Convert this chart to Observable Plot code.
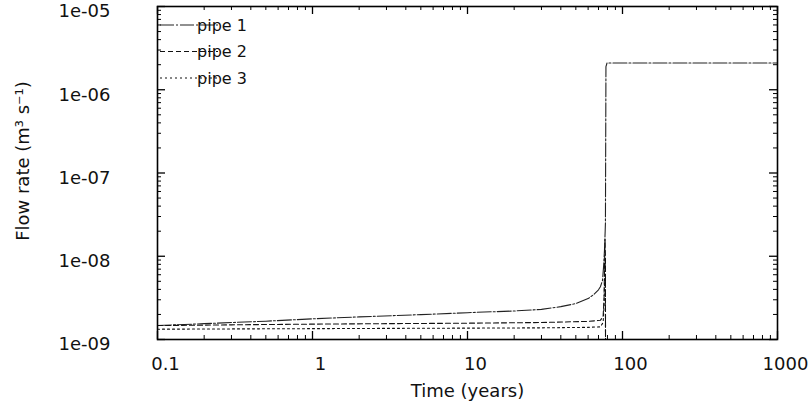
<!DOCTYPE html>
<html><head><meta charset="utf-8">
<script src="https://cdn.jsdelivr.net/npm/d3@7"></script>
<script src="https://cdn.jsdelivr.net/npm/@observablehq/plot@0.6"></script>
<style>
body{margin:0;background:#fff;}
#wrap{width:812px;height:411px;font-family:"DejaVu Sans",sans-serif;}
</style></head><body><div id="wrap"></div>
<script>
// ---- data ----
const seriesNames = ["pipe 1", "pipe 2", "pipe 3"];
const pipe1Time = [0.1, 0.2, 0.5, 1, 2, 5, 10, 20, 30, 40, 50, 60, 65, 70, 72, 74.3, 75.5, 76.5, 77.3, 77.6, 78.2, 79.5, 200, 1000];
const pipe1Flow = [1.47e-9, 1.55e-9, 1.66e-9, 1.77e-9, 1.87e-9, 1.99e-9, 2.1e-9, 2.2e-9, 2.3e-9, 2.48e-9, 2.7e-9, 3.1e-9, 3.45e-9, 3.95e-9, 4.3e-9, 5.1e-9, 7.5e-9, 1.17e-8, 2.0e-8, 2.5e-8, 1.9e-6, 2.1e-6, 2.1e-6, 2.1e-6];
const pipe2Time = [0.1, 0.3, 1, 3, 10, 30, 60, 72, 75, 76, 76.6, 77.2, 77.6, 78, 1000];
const pipe2Flow = [1.47e-9, 1.5e-9, 1.53e-9, 1.55e-9, 1.57e-9, 1.6e-9, 1.65e-9, 1.7e-9, 1.9e-9, 3e-9, 8e-9, 1.6e-8, 1e-8, 1e-12, 1e-12];
const pipe3Time = [0.1, 0.3, 1, 3, 10, 30, 60, 72, 75, 76, 76.6, 77.2, 77.6, 78, 1000];
const pipe3Flow = [1.33e-9, 1.34e-9, 1.35e-9, 1.36e-9, 1.37e-9, 1.38e-9, 1.4e-9, 1.42e-9, 1.6e-9, 2.5e-9, 5e-9, 9e-9, 6e-9, 1e-12, 1e-12];
const xTickValues = [0.1, 1, 10, 100, 1000];
const xTickLabels = ["0.1", "1", "10", "100", "1000"];
const yTickValues = [1e-9, 1e-8, 1e-7, 1e-6, 1e-5];
const yTickLabels = ["1e-09", "1e-08", "1e-07", "1e-06", "1e-05"];
const xTitle = "Time (years)";
const yTitle = "Flow rate (m³ s⁻¹)";

const styles = [
  {stroke: "#222", dash: "14,2,2,2"},
  {stroke: "#111", dash: "5,3"},
  {stroke: "#111", dash: "2,3"}
];
const toRows = (t, v, s) => t.map((d, i) => ({t: d, v: v[i], s}));
const rows = [
  ...toRows(pipe1Time, pipe1Flow, seriesNames[0]),
  ...toRows(pipe2Time, pipe2Flow, seriesNames[1]),
  ...toRows(pipe3Time, pipe3Flow, seriesNames[2])
];

function minors(lo, hi) {
  const out = [];
  for (let e = lo; e < hi; e++) for (let k = 2; k <= 9; k++) out.push(k * Math.pow(10, e));
  return out;
}
const xMinor = minors(-1, 3);
const yMinor = minors(-9, -5);

const W = 812, H = 411, ML = 157, MT = 6, MR = 35, MB = 72;
const PW = W - ML - MR, PH = H - MT - MB;
const FS = 18;
const X0 = 0.1, X1 = 1000, Y0 = 1e-9, Y1 = 1e-5;
// tick length expressed as a factor along each log axis
const xDecades = Math.log10(X1 / X0), yDecades = Math.log10(Y1 / Y0);
const fx = px => Math.pow(10, px * xDecades / PW);
const fy = px => Math.pow(10, px * yDecades / PH);

const inwardTicks = (xs, ys, len, sw) => [
  Plot.ruleX(xs, {y1: Y0, y2: Y0 * fy(len), stroke: "#000", strokeWidth: sw}),
  Plot.ruleX(xs, {y1: Y1, y2: Y1 / fy(len), stroke: "#000", strokeWidth: sw}),
  Plot.ruleY(ys, {x1: X0, x2: X0 * fx(len), stroke: "#000", strokeWidth: sw}),
  Plot.ruleY(ys, {x1: X1, x2: X1 / fx(len), stroke: "#000", strokeWidth: sw})
];

const chart = Plot.plot({
  width: W, height: H,
  marginLeft: ML, marginTop: MT, marginRight: MR, marginBottom: MB,
  style: {fontFamily: '"DejaVu Sans", sans-serif', fontSize: FS + "px", color: "#111", background: "#fff"},
  x: {type: "log", domain: [X0, X1], axis: null},
  y: {type: "log", domain: [Y0, Y1], axis: null},
  marks: [
    ...inwardTicks(xTickValues, yTickValues, 8, 1.3),
    ...inwardTicks(xMinor, yMinor, 4, 1),
    Plot.axisX(xTickValues, {anchor: "bottom", tickSize: 0, tickPadding: 18, dx: 8,
      tickFormat: d => xTickLabels[xTickValues.indexOf(d)], fontSize: FS,
      label: xTitle, labelAnchor: "center", labelOffset: 57, labelArrow: "none"}),
    Plot.axisY(yTickValues, {anchor: "left", tickSize: 0, tickPadding: 47, dy: 5,
      tickFormat: d => yTickLabels[yTickValues.indexOf(d)], fontSize: FS, label: null}),
    Plot.text([yTitle], {frameAnchor: "left", textAnchor: "middle", rotate: -90, dx: -134, dy: -12, fontSize: FS, fill: "#111"}),
    ...seriesNames.map((name, i) => Plot.line(rows.filter(r => r.s === name), {
      x: "t", y: "v", stroke: styles[i].stroke, strokeDasharray: styles[i].dash,
      strokeWidth: 1.1, clip: true
    })),
    Plot.frame({stroke: "#000", strokeWidth: 1.6})
  ]
});
document.getElementById("wrap").appendChild(chart);

// legend drawn inside the chart's own SVG, top-left of the frame
const svg = chart.tagName.toLowerCase() === "svg" ? chart : chart.querySelector("svg");
const g = d3.select(svg).append("g").attr("font-family", '"DejaVu Sans", sans-serif').attr("font-size", 16);
seriesNames.forEach((name, i) => {
  const y = 25 + i * 26.5;
  g.append("line").attr("x1", ML + 3).attr("x2", ML + 61).attr("y1", y).attr("y2", y)
    .attr("stroke", styles[i].stroke).attr("stroke-width", 1.1).attr("stroke-dasharray", styles[i].dash);
  g.append("text").attr("x", ML + 65).attr("y", y + 5.5).attr("fill", "#111").text(name);
});
</script></body></html>
